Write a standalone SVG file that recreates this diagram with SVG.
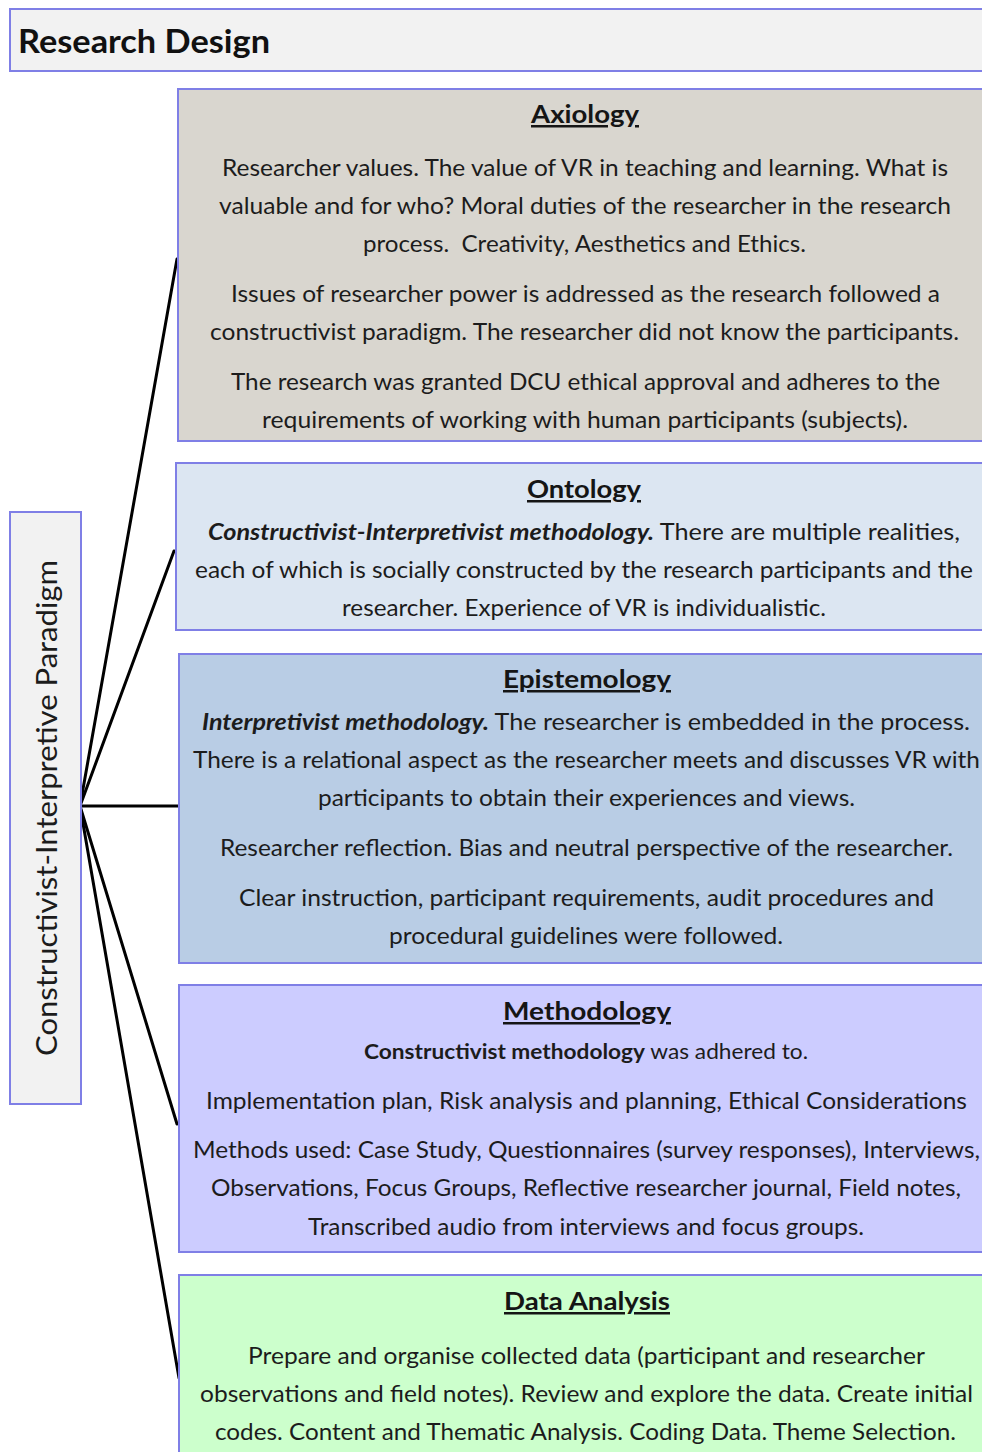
<svg xmlns="http://www.w3.org/2000/svg" width="982" height="1452" viewBox="0 0 982 1452">
  <style>
    .box { stroke: #7f7fe6; stroke-width: 2; }
    .t { font-family: Lato, "Open Sans", sans-serif; font-size: 22.5px; fill: #1c1c1c; }
    .c { text-anchor: middle; }
    .h { font-family: Lato, "Open Sans", sans-serif; font-size: 25px; font-weight: bold; fill: #151515; text-anchor: middle; text-decoration: underline; }
    .b { font-weight: bold; }
    .bi { font-weight: bold; font-style: italic; }
    .title { font-size: 32px; fill: #111; }
    .side { font-size: 28px; }
    .small { font-size: 20.5px; }
    .link { stroke: #000; stroke-width: 3; fill: none; stroke-linecap: round; }
  </style>

  <rect width="982" height="1452" fill="#ffffff"/>

  <!-- header -->
  <g id="title">
    <rect class="box" x="10" y="9" width="990" height="62" fill="#f2f2f2"/>
    <text class="t b title" x="18" y="53" textLength="252" lengthAdjust="spacingAndGlyphs">Research Design</text>
  </g>

  <!-- connectors from the paradigm hub -->
  <g id="connectors">
    <line class="link" x1="80" y1="806" x2="177" y2="259"/>
    <line class="link" x1="80" y1="806" x2="174" y2="551"/>
    <line class="link" x1="80" y1="806" x2="179" y2="806"/>
    <line class="link" x1="80" y1="806" x2="177" y2="1124"/>
    <line class="link" x1="80" y1="806" x2="179" y2="1378"/>
  </g>

  <g id="paradigm">
    <rect class="box" x="10" y="512" width="71" height="592" fill="#f2f2f2"/>
    <text class="t c side" transform="translate(57 808) rotate(-90)" textLength="496" lengthAdjust="spacingAndGlyphs">Constructivist-Interpretive Paradigm</text>
  </g>

  <g id="axiology">
    <rect class="box" x="178" y="89" width="822" height="352" fill="#d9d6cf"/>
    <text class="h" x="585" y="123" textLength="108" lengthAdjust="spacingAndGlyphs">Axiology</text>
    <text class="t" x="222" y="176" textLength="726" lengthAdjust="spacingAndGlyphs">Researcher values. The value of VR in teaching and learning. What is</text>
    <text class="t" x="219" y="214" textLength="732" lengthAdjust="spacingAndGlyphs">valuable and for who? Moral duties of the researcher in the research</text>
    <text class="t" x="363" y="252" textLength="443" lengthAdjust="spacingAndGlyphs" xml:space="preserve">process.  Creativity, Aesthetics and Ethics.</text>
    <text class="t" x="231" y="302" textLength="709" lengthAdjust="spacingAndGlyphs">Issues of researcher power is addressed as the research followed a</text>
    <text class="t" x="210" y="340" textLength="749" lengthAdjust="spacingAndGlyphs">constructivist paradigm. The researcher did not know the participants.</text>
    <text class="t" x="231" y="390" textLength="709" lengthAdjust="spacingAndGlyphs">The research was granted DCU ethical approval and adheres to the</text>
    <text class="t" x="262" y="428" textLength="646" lengthAdjust="spacingAndGlyphs">requirements of working with human participants (subjects).</text>
  </g>

  <g id="ontology">
    <rect class="box" x="176" y="463" width="824" height="167" fill="#dce6f2"/>
    <text class="h" x="584" y="498" textLength="114" lengthAdjust="spacingAndGlyphs">Ontology</text>
    <text class="t" x="208" y="540" textLength="752" lengthAdjust="spacingAndGlyphs"><tspan class="bi">Constructivist-Interpretivist methodology.</tspan> There are multiple realities,</text>
    <text class="t" x="195" y="578" textLength="778" lengthAdjust="spacingAndGlyphs">each of which is socially constructed by the research participants and the</text>
    <text class="t" x="342" y="616" textLength="484" lengthAdjust="spacingAndGlyphs">researcher. Experience of VR is individualistic.</text>
  </g>

  <g id="epistemology">
    <rect class="box" x="179" y="654" width="821" height="309" fill="#b9cde5"/>
    <text class="h" x="587" y="688" textLength="168" lengthAdjust="spacingAndGlyphs">Epistemology</text>
    <text class="t" x="202" y="730" textLength="768" lengthAdjust="spacingAndGlyphs"><tspan class="bi">Interpretivist methodology.</tspan> The researcher is embedded in the process.</text>
    <text class="t" x="193" y="768" textLength="787" lengthAdjust="spacingAndGlyphs">There is a relational aspect as the researcher meets and discusses VR with</text>
    <text class="t" x="318" y="806" textLength="537" lengthAdjust="spacingAndGlyphs">participants to obtain their experiences and views.</text>
    <text class="t" x="220" y="856" textLength="733" lengthAdjust="spacingAndGlyphs">Researcher reflection. Bias and neutral perspective of the researcher.</text>
    <text class="t" x="239" y="906" textLength="695" lengthAdjust="spacingAndGlyphs">Clear instruction, participant requirements, audit procedures and</text>
    <text class="t" x="389" y="944" textLength="394" lengthAdjust="spacingAndGlyphs">procedural guidelines were followed.</text>
  </g>

  <g id="methodology">
    <rect class="box" x="179" y="985" width="821" height="267" fill="#ccccff"/>
    <text class="h" x="587" y="1020" textLength="168" lengthAdjust="spacingAndGlyphs">Methodology</text>
    <text class="t small" x="364" y="1059" textLength="444" lengthAdjust="spacingAndGlyphs"><tspan class="b">Constructivist methodology</tspan> was adhered to.</text>
    <text class="t" x="206" y="1109" textLength="761" lengthAdjust="spacingAndGlyphs">Implementation plan, Risk analysis and planning, Ethical Considerations</text>
    <text class="t" x="193" y="1158" textLength="787" lengthAdjust="spacingAndGlyphs">Methods used: Case Study, Questionnaires (survey responses), Interviews,</text>
    <text class="t" x="211" y="1196" textLength="750" lengthAdjust="spacingAndGlyphs">Observations, Focus Groups, Reflective researcher journal, Field notes,</text>
    <text class="t" x="308" y="1235" textLength="556" lengthAdjust="spacingAndGlyphs">Transcribed audio from interviews and focus groups.</text>
  </g>

  <g id="data-analysis">
    <rect class="box" x="179" y="1275" width="821" height="200" fill="#ccffcc"/>
    <text class="h" x="587" y="1310" textLength="166" lengthAdjust="spacingAndGlyphs">Data Analysis</text>
    <text class="t" x="248" y="1364" textLength="677" lengthAdjust="spacingAndGlyphs">Prepare and organise collected data (participant and researcher</text>
    <text class="t" x="200" y="1402" textLength="773" lengthAdjust="spacingAndGlyphs">observations and field notes). Review and explore the data. Create initial</text>
    <text class="t" x="215" y="1440" textLength="741" lengthAdjust="spacingAndGlyphs">codes. Content and Thematic Analysis. Coding Data. Theme Selection.</text>
  </g>
</svg>
